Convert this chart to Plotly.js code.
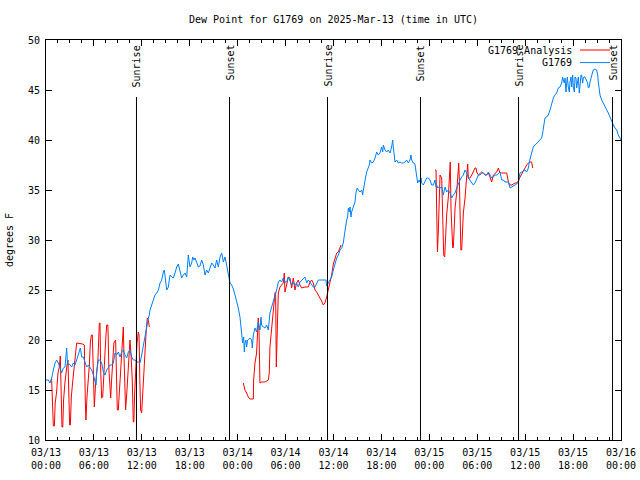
<!DOCTYPE html>
<html><head><meta charset="utf-8">
<script src="https://cdn.plot.ly/plotly-3.0.1.min.js"></script>
<style>html,body{margin:0;padding:0;background:#fff}#chart{width:640px;height:480px}</style>
</head><body><div id="chart"></div>
<script>
// hours after 2025-03-13 00:00 UTC, dew point (F)
const startMs = Date.UTC(2025, 2, 13, 0, 0, 0);
const HOUR = 3600000;

const blueObs = [
[0,16.0],[0.29,16.0],[0.5,15.7],[0.71,16.2],[0.92,17.0],[1.13,17.7],[1.34,18.0],[1.55,17.7],[1.75,17.2],[1.96,16.7],[2.17,17.2],[2.38,17.3],[2.59,19.2],[2.7,17.5],[2.92,17.6],[3.21,17.3],[3.42,17.7],[3.63,17.5],[3.84,18.0],[4.05,18.5],[4.3,19.2],[4.47,18.3],[4.68,18.3],[4.88,17.8],[5.09,17.3],[5.3,17.5],[5.51,17.3],[5.72,17.0],[5.93,16.5],[6.14,15.8],[6.26,15.5],[6.35,16.8],[6.55,18.0],[6.76,18.0],[6.97,17.7],[7.18,16.8],[7.39,16.5],[7.6,17.0],[7.81,17.3],[8.01,17.5],[8.22,17.5],[8.43,17.7],[8.64,18.7],[8.85,18.5],[9.06,18.8],[9.27,18.3],[9.47,18.8],[9.68,19.0],[9.89,18.5],[10.1,18.2],[10.31,18.8],[10.52,19.0],[10.73,18.3],[10.94,18.0],[11.15,18.0],[11.35,17.8],[11.56,17.8],[11.77,17.7],[11.98,18.5],[12.19,19.5],[12.4,20.3],[12.52,21.0],[12.69,22.0],[12.82,22.2],[12.94,22.5],
[13.02,23.0],[13.23,23.5],[13.44,24.0],[13.65,24.5],[13.86,24.7],[14.07,25.0],[14.28,25.7],[14.49,26.0],[14.69,26.8],[14.82,27.0],[14.94,26.2],[15.11,25.0],[15.32,25.3],[15.53,26.5],[15.74,26.3],[15.95,26.2],[16.15,26.7],[16.36,27.3],[16.57,27.6],[16.78,26.8],[16.99,26.2],[17.2,26.5],[17.41,26.7],[17.62,26.3],[17.82,28.5],[18.03,27.3],[18.24,27.7],[18.37,28.3],[18.53,28.0],[18.66,28.2],[18.87,27.7],[19.08,27.3],[19.28,27.4],[19.49,28.0],[19.7,27.5],[19.91,26.5],[20.12,27.0],[20.33,26.7],[20.54,27.2],[20.75,27.7],[20.95,27.5],[21.16,27.2],[21.37,28.0],[21.58,27.3],[21.79,28.3],[22.0,28.7],[22.21,27.8],[22.41,28.3],[22.62,27.5],[22.78,26.8],[22.96,26.0],[23.04,25.7],[23.25,25.5],[23.46,25.1],[23.67,24.5],[23.88,23.9],[24.08,23.2],[24.29,22.3],[24.41,21.3],[24.5,20.0],[24.62,19.7],[24.75,20.3],[24.83,18.8],[24.91,19.7],[25.04,20.0],[25.12,19.3],[25.25,20.0],[25.54,20.2],[25.75,20.0],[25.83,19.2],[25.96,20.5],[26.17,21.2],[26.37,20.8],[26.58,21.8],[26.79,21.0],[26.92,22.3],[27.0,21.5],[27.21,21.3],[27.42,21.2],[27.63,21.5],[27.84,21.0],[28.04,22.7],[28.25,23.3],[28.46,23.7],[28.67,24.3],[28.88,25.0],[29.09,25.8],[29.3,26.0],[29.5,25.8],[29.71,26.2],[29.92,25.8],[30.13,25.8],[30.34,26.3],[30.55,25.8],[30.76,25.5],[30.97,25.8],[31.17,25.5],[31.38,25.7],[31.59,25.3],[31.8,25.8],[32.01,26.0],[32.22,26.2],[32.43,26.3],[32.64,25.7],[32.84,26.0],[33.05,25.8],[33.26,25.5],[33.47,25.3],[33.68,25.3],[33.89,25.7],[34.1,26.0],[34.51,26.0],[35.06,26.0],[35.14,25.4],[35.35,25.7],[35.56,26.1],[35.77,26.3],[35.98,27.0],[36.19,27.7],[36.4,28.2],[36.61,28.5],[36.81,29.0],[37.02,29.2],[37.23,29.7],[37.36,30.5],[37.44,31.0],[37.57,31.7],[37.65,32.0],[37.77,32.3],[37.86,33.2],[37.98,32.8],[38.07,33.3],[38.19,32.3],[38.27,32.8],[38.48,33.3],[38.69,33.8],[38.82,34.8],[38.98,35.2],[39.11,35.0],[39.32,34.8],[39.53,35.0],[39.65,34.5],[39.74,35.0],[39.86,35.8],[40.03,36.3],[40.15,36.8],[40.36,37.2],[40.49,37.5],[40.57,38.0],[40.78,37.7],[40.99,37.8],[41.2,38.2],[41.41,38.8],[41.61,38.5],[41.82,38.7],[42.03,39.3],[42.16,38.8],[42.24,39.5],[42.45,39.0],[42.66,38.8],[42.87,39.0],[43.07,38.7],[43.28,39.3],[43.41,40.0],[43.49,39.3],[43.58,38.7],[43.7,37.8],[43.91,38.0],[44.12,37.7],[44.33,37.8],[44.54,37.7],[44.74,37.7],[44.95,37.8],[45.16,38.0],[45.37,37.7],[45.58,38.0],[45.7,38.5],[45.79,38.0],[45.99,37.7],[46.2,37.6],[46.33,37.0],[46.42,36.2],[46.54,35.7],[46.71,36.0],[46.84,35.8],[46.96,36.2],[47.04,35.7],[47.25,35.5],[47.46,35.8],[47.67,36.2],[47.88,36.2],[48.09,36.0],[48.3,35.5],[48.51,35.5],[48.71,36.0],[48.84,35.3],[48.92,35.5],[49.05,35.2],[49.13,35.3],[49.34,35.2],[49.55,35.3],[49.76,34.5],[49.88,35.0],[49.97,35.3],[50.17,34.8],[50.38,35.0],[50.59,34.7],[50.8,34.2],[51.01,34.5],[51.22,34.7],[51.43,35.2],[51.64,35.7],[51.84,36.0],[52.05,36.3],[52.26,36.5],[52.47,37.0],[52.68,36.7],[52.89,36.2],[53.1,36.0],[53.31,35.8],[53.51,35.5],[53.72,35.7],[53.93,36.2],[54.14,36.5],[54.35,36.5],[54.56,36.7],[54.77,36.7],[54.97,36.5],[55.18,36.5],[55.39,36.8],[55.6,36.5],[55.81,36.2],[56.02,36.3],[56.23,36.5],[56.44,36.5],[56.64,36.7],[56.85,36.8],[57.06,36.0],[57.27,36.0],[57.48,35.8],[57.69,35.8],[57.9,35.8],[58.1,35.2],[58.31,35.3],[58.52,35.4],[58.73,35.5],[58.94,35.6],[59.15,35.8],[59.27,36.3],[59.35,36.7],[59.57,36.8],[59.77,36.9],[59.98,37.0],[60.19,36.8],[60.4,37.2],[60.52,37.8],[60.69,38.2],[60.81,38.7],[61.02,39.3],[61.23,39.5],[61.44,39.7],[61.65,39.8],[61.86,40.0],[62.06,40.2],[62.19,40.7],[62.27,41.2],[62.4,41.7],[62.48,42.2],[62.69,42.3],[62.9,42.5],[63.11,43.0],[63.32,43.7],[63.44,44.0],[63.53,44.2],[63.73,44.5],[63.94,44.7],[64.15,45.2],[64.36,45.3],[64.57,45.7],[64.69,46.3],[64.78,46.0],[64.9,45.7],[64.99,46.2],[65.11,44.8],[65.2,45.7],[65.28,46.3],[65.4,45.3],[65.53,44.8],[65.61,45.8],[65.74,46.3],[65.82,45.3],[65.95,46.5],[66.03,45.3],[66.16,44.8],[66.24,46.3],[66.36,46.2],[66.45,45.2],[66.57,46.0],[66.66,46.3],[66.78,44.7],[66.86,45.8],[66.99,46.5],[67.07,46.5],[67.2,45.7],[67.28,46.2],[67.37,46.3],[67.49,46.3],[67.62,46.0],[67.7,45.8],[67.82,45.7],[67.91,45.2],[68.03,45.3],[68.12,45.8],[68.24,46.3],[68.33,46.5],[68.45,46.8],[68.53,47.0],[68.74,47.1],[68.95,47.0],[69.08,46.5],[69.16,45.8],[69.29,45.0],[69.37,44.5],[69.58,44.0],[69.79,43.7],[70.0,43.3],[70.2,43.0],[70.41,42.7],[70.62,42.3],[70.83,41.8],[71.04,41.5],[71.25,41.2],[71.46,41.0],[71.66,40.5],[71.87,40.2],[72.0,40.0]
];

const redSeg1 = [
[0.7,16.2],[0.85,12.5],[0.92,11.4],[1.05,11.4],[1.15,13.7],[1.33,14.8],[1.5,16.7],[1.67,17.3],[1.79,18.4],[1.92,14.0],[2.0,11.3],[2.1,11.3],[2.2,14.0],[2.38,15.8],[2.5,16.8],[2.63,17.5],[2.75,18.0],[2.88,13.0],[2.96,11.5],[3.05,11.5],[3.17,14.3],[3.34,15.8],[3.5,17.3],[3.67,18.2],[3.84,19.7],[4.59,19.6],[4.8,19.5],[4.92,14.0],[5.0,12.0],[5.13,14.3],[5.3,15.8],[5.43,17.5],[5.55,19.7],[5.68,20.5],[5.8,20.5],[5.95,16.0],[6.05,13.3],[6.2,15.5],[6.35,17.0],[6.5,18.0],[6.68,21.7],[6.76,21.7],[6.85,17.0],[6.97,14.2],[7.1,14.3],[7.25,17.0],[7.45,19.7],[7.6,21.5],[7.75,21.5],[7.88,17.0],[8.01,14.2],[8.1,14.2],[8.2,15.8],[8.35,18.3],[8.5,19.7],[8.72,20.0],[8.8,17.0],[8.93,13.0],[9.05,13.0],[9.2,15.3],[9.4,17.8],[9.55,19.8],[9.68,21.3],[9.78,18.0],[9.9,14.2],[9.97,13.0],[10.1,14.5],[10.2,15.7],[10.4,19.0],[10.52,20.0],[10.65,18.5],[10.8,16.0],[10.93,11.8],[11.0,11.8],[11.1,14.7],[11.25,17.8],[11.4,19.7],[11.56,20.8],[11.65,20.5],[11.75,16.0],[11.85,13.0],[11.98,12.7],[12.1,14.7],[12.25,17.5],[12.4,19.7],[12.55,21.0],[12.69,22.2],[12.8,22.0],[12.95,21.3]
];
const redSeg2 = [
[24.71,15.7],[24.83,15.3],[24.91,15.0],[25.12,14.7],[25.33,14.3],[25.54,14.1],[25.96,14.1],[26.0,16.0],[26.17,17.7],[26.37,18.7],[26.46,20.0],[26.58,22.2],[26.67,21.0],[26.75,17.0],[26.79,15.7],[27.0,15.8],[27.42,15.8],[27.84,16.0],[27.96,16.7],[28.04,19.3],[28.25,21.3],[28.46,23.3],[28.67,24.7],[28.75,24.8],[28.84,17.3],[28.96,21.0],[29.09,24.7],[29.3,25.3],[29.5,25.5],[29.71,25.7],[29.84,26.7],[29.92,24.8],[30.13,25.5],[30.34,26.3],[30.55,26.2],[30.76,25.2],[30.97,26.2],[31.17,25.0],[31.38,25.7],[31.59,26.0],[31.8,25.5],[32.01,25.2],[32.43,25.3],[32.84,25.3],[33.05,25.8],[33.26,26.0],[33.47,25.7],[33.68,25.0],[33.89,24.8],[34.1,24.5],[34.31,24.3],[34.51,23.9],[34.72,23.5],[34.93,23.7],[35.14,24.3],[35.35,25.0],[35.56,25.7],[35.77,26.5],[35.98,27.6],[36.19,28.3],[36.4,28.7],[36.61,28.8],[36.81,29.3],[36.94,29.5]
];
const redSeg3 = [
[48.71,37.0],[48.84,37.0],[48.92,33.0],[49.02,28.8],[49.13,31.0],[49.26,35.5],[49.34,36.5],[49.55,36.2],[49.67,33.5],[49.8,28.5],[49.92,28.3],[50.05,30.7],[50.17,32.5],[50.38,34.3],[50.51,36.8],[50.62,37.8],[50.72,33.0],[50.8,31.0],[50.93,29.2],[51.01,29.3],[51.13,31.2],[51.22,33.2],[51.43,34.8],[51.55,36.2],[51.68,37.7],[51.76,36.0],[51.84,32.7],[51.95,29.0],[52.05,29.0],[52.18,31.2],[52.26,32.7],[52.47,34.2],[52.68,37.0],[52.8,37.6],[52.89,36.2],[53.1,36.2],[53.31,36.5],[53.51,36.8],[53.72,37.2],[53.85,37.2],[53.93,36.8],[54.14,36.5],[54.35,36.7],[54.56,36.8],[54.77,36.7],[54.97,36.5],[55.18,36.5],[55.39,36.7],[55.6,36.3],[55.81,35.8],[56.02,36.5],[56.23,36.7],[56.44,36.8],[56.64,37.2],[56.85,36.7],[57.06,36.7],[57.48,36.7],[57.69,36.7],[57.9,35.8],[58.1,35.5],[58.31,35.5],[58.52,35.6],[58.73,35.7],[58.94,35.7],[59.15,35.9],[59.36,36.3],[59.57,36.6],[59.77,37.0],[59.98,37.2],[60.19,37.5],[60.4,37.7],[60.6,37.8],[60.81,37.8],[60.94,37.2]
];

const sunHours = [11.33, 22.98, 35.25, 46.89, 59.17, 70.94];
const sunLabels = ['Sunrise', 'Sunset', 'Sunrise', 'Sunset', 'Sunrise', 'Sunset'];
const seriesNames = ['G1769 Analysis', 'G1769'];
const seriesColors = ['#ff0000', '#0080ff'];

const toX = h => startMs + h * HOUR;
const FONT = {family: 'DejaVu Sans Mono, Liberation Mono, monospace', size: 10, color: '#000'};

// red segments joined with gaps
const redX = [], redY = [];
[redSeg1, redSeg2, redSeg3].forEach((seg, i) => {
  if (i > 0) { redX.push(toX(seg[0][0] - 0.05)); redY.push(null); }
  seg.forEach(p => { redX.push(toX(p[0])); redY.push(p[1]); });
});

const traces = [
  {x: redX, y: redY, type: 'scatter', mode: 'lines', name: seriesNames[0],
   line: {color: seriesColors[0], width: 1}, connectgaps: false},
  {x: blueObs.map(p => toX(p[0])), y: blueObs.map(p => p[1]), type: 'scatter', mode: 'lines',
   name: seriesNames[1], line: {color: seriesColors[1], width: 1}}
];

const shapes = [], annotations = [];
sunHours.forEach((h, i) => {
  shapes.push({type: 'line', xref: 'x', yref: 'paper', x0: toX(h), x1: toX(h), y0: 0, y1: 0.8575,
    line: {color: '#000', width: 1}});
  annotations.push({text: sunLabels[i], xref: 'x', yref: 'paper', x: toX(h), y: 1, yanchor: 'top',
    xanchor: 'center', yshift: -3, textangle: -90, showarrow: false, font: FONT});
});
// manual legend (text left, sample line right)
const legY = [0.975, 0.9435];
seriesNames.forEach((n, i) => {
  annotations.push({text: n, xref: 'paper', yref: 'paper', x: 0.918, y: legY[i], xanchor: 'right',
    yanchor: 'middle', showarrow: false, font: FONT});
  shapes.push({type: 'line', xref: 'paper', yref: 'paper', x0: 0.9287, x1: 0.9809, y0: legY[i], y1: legY[i],
    line: {color: seriesColors[i], width: 1}});
});

const layout = {
  width: 640, height: 480,
  margin: {l: 46, r: 19, t: 40, b: 40, pad: 0},
  paper_bgcolor: '#fff', plot_bgcolor: '#fff',
  font: FONT,
  showlegend: false,
  title: {text: 'Dew Point for G1769 on 2025-Mar-13 (time in UTC)', font: FONT,
    x: 0.5, xref: 'paper', xanchor: 'center', y: 0.96, yref: 'container', yanchor: 'middle'},
  xaxis: {type: 'date', range: [toX(0), toX(72)], tick0: toX(0), dtick: 6 * HOUR,
    tickformat: '%m/%d<br>%H:%M', ticks: 'inside', ticklen: 6, tickcolor: '#000',
    ticklabelstandoff: 3,
    showline: true, linecolor: '#000', linewidth: 1, mirror: 'allticks',
    showgrid: false, zeroline: false, tickfont: FONT,
    minor: {dtick: 1.5 * HOUR, tick0: toX(0), ticks: 'inside', ticklen: 3, tickcolor: '#000', showgrid: false}},
  yaxis: {range: [10, 50], dtick: 5, ticks: 'inside', ticklen: 6, tickcolor: '#000',
    ticklabelstandoff: 3,
    showline: true, linecolor: '#000', linewidth: 1, mirror: 'allticks',
    showgrid: false, zeroline: false, tickfont: FONT,
    title: {text: 'degrees F', font: FONT, standoff: 12}},
  shapes: shapes,
  annotations: annotations
};

Plotly.newPlot('chart', traces, layout, {staticPlot: true, displayModeBar: false});
</script>
</body></html>
